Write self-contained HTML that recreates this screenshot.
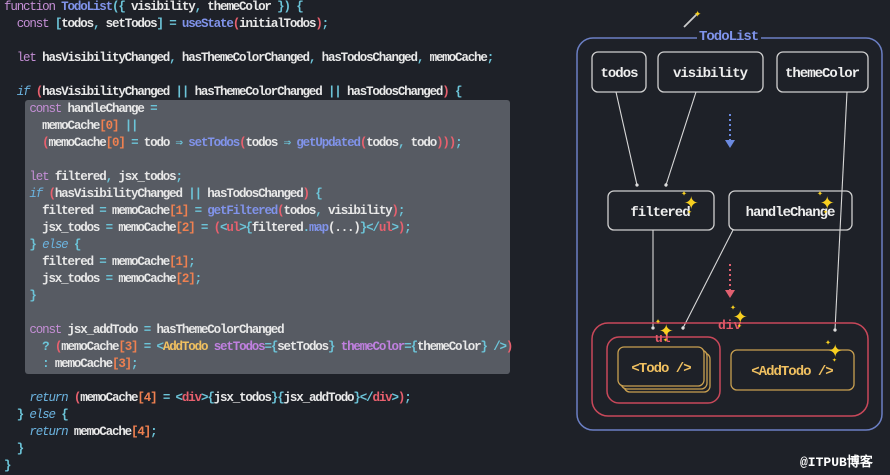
<!DOCTYPE html>
<html><head><meta charset="utf-8"><style>
html,body{margin:0;padding:0}
body{width:890px;height:475px;background:#1e2128;position:relative;overflow:hidden;font-family:"Liberation Mono","DejaVu Sans Mono",monospace}
.hl{position:absolute;left:25px;top:100px;width:485px;height:274px;background:#575b63;border-radius:3px}
pre{position:absolute;left:4px;top:-1px;margin:0;font-family:"Liberation Mono",monospace;font-size:12.5px;letter-spacing:-1.15px;line-height:17px;color:#e8e8e8;font-weight:bold}
.k{color:#c58fd6;font-weight:normal}.f{color:#8093ea}.p{color:#6cc4d8}.n{color:#ef8050}.r{color:#e8606e}.y{color:#f0c060}.i{color:#6cb4e0;font-style:italic;font-weight:normal}.a{color:#c080e0}
svg{position:absolute;left:0;top:0}
svg text{font-family:"Liberation Mono",monospace;font-weight:bold}
</style></head><body>
<div class="hl"></div>
<pre><span class="k">function</span> <span class="f">TodoList</span><span class="p">({</span> visibility<span class="p">,</span> themeColor <span class="p">})</span> <span class="p">{</span>
  <span class="k">const</span> <span class="p">[</span>todos<span class="p">,</span> setTodos<span class="p">]</span> <span class="p">=</span> <span class="f">useState</span><span class="r">(</span>initialTodos<span class="r">)</span><span class="p">;</span>

  <span class="k">let</span> hasVisibilityChanged<span class="p">,</span> hasThemeColorChanged<span class="p">,</span> hasTodosChanged<span class="p">,</span> memoCache<span class="p">;</span>

  <span class="i">if</span> <span class="r">(</span>hasVisibilityChanged <span class="p">||</span> hasThemeColorChanged <span class="p">||</span> hasTodosChanged<span class="r">)</span> <span class="p">{</span>
    <span class="k">const</span> handleChange <span class="p">=</span>
      memoCache<span class="n">[0]</span> <span class="p">||</span>
      <span class="r">(</span>memoCache<span class="n">[0]</span> <span class="p">=</span> todo <span class="p">⇒</span> <span class="f">setTodos</span><span class="r">(</span>todos <span class="p">⇒</span> <span class="f">getUpdated</span><span class="r">(</span>todos<span class="p">,</span> todo<span class="r">)))</span><span class="p">;</span>

    <span class="k">let</span> filtered<span class="p">,</span> jsx_todos<span class="p">;</span>
    <span class="i">if</span> <span class="r">(</span>hasVisibilityChanged <span class="p">||</span> hasTodosChanged<span class="r">)</span> <span class="p">{</span>
      filtered <span class="p">=</span> memoCache<span class="n">[1]</span> <span class="p">=</span> <span class="f">getFiltered</span><span class="r">(</span>todos<span class="p">,</span> visibility<span class="r">)</span><span class="p">;</span>
      jsx_todos <span class="p">=</span> memoCache<span class="n">[2]</span> <span class="p">=</span> <span class="r">(</span><span class="p">&lt;</span><span class="r">ul</span><span class="p">&gt;{</span>filtered<span class="p">.</span><span class="f">map</span>(...)<span class="p">}&lt;/</span><span class="r">ul</span><span class="p">&gt;</span><span class="r">)</span><span class="p">;</span>
    <span class="p">}</span> <span class="i">else</span> <span class="p">{</span>
      filtered <span class="p">=</span> memoCache<span class="n">[1]</span><span class="p">;</span>
      jsx_todos <span class="p">=</span> memoCache<span class="n">[2]</span><span class="p">;</span>
    <span class="p">}</span>

    <span class="k">const</span> jsx_addTodo <span class="p">=</span> hasThemeColorChanged
      <span class="p">?</span> <span class="r">(</span>memoCache<span class="n">[3]</span> <span class="p">=</span> <span class="p">&lt;</span><span class="y">AddTodo</span> <span class="a">setTodos</span><span class="p">={</span>setTodos<span class="p">}</span> <span class="a">themeColor</span><span class="p">={</span>themeColor<span class="p">}</span> <span class="p">/&gt;</span><span class="r">)</span>
      <span class="p">:</span> memoCache<span class="n">[3]</span><span class="p">;</span>

    <span class="i">return</span> <span class="r">(</span>memoCache<span class="n">[4]</span> <span class="p">=</span> <span class="p">&lt;</span><span class="r">div</span><span class="p">&gt;{</span>jsx_todos<span class="p">}{</span>jsx_addTodo<span class="p">}&lt;/</span><span class="r">div</span><span class="p">&gt;</span><span class="r">)</span><span class="p">;</span>
  <span class="p">}</span> <span class="i">else</span> <span class="p">{</span>
    <span class="i">return</span> memoCache<span class="n">[4]</span><span class="p">;</span>
  <span class="p">}</span>
<span class="p">}</span></pre>
<svg width="890" height="475" viewBox="0 0 890 475">
<defs>
<marker id="ah" markerWidth="4" markerHeight="4" refX="2" refY="2" orient="auto"><circle cx="2" cy="2" r="1.5" fill="#ddd"/></marker>
</defs>
<!-- wand -->
<line x1="684" y1="27" x2="697" y2="14" stroke="#ccc" stroke-width="1.8"/>
<text x="694" y="17" font-size="12" fill="#f5d020" font-family="DejaVu Sans">✦</text>
<!-- TodoList -->
<rect x="577" y="38" width="305" height="392" rx="16" fill="none" stroke="#6b7fc4" stroke-width="1.5"/>
<rect x="697" y="28" width="64" height="14" fill="#1e2128"/>
<text x="699" y="40" font-size="14" fill="#7f93ea" letter-spacing="-1">TodoList</text>
<g fill="none" stroke="#d0d0d0" stroke-width="1.3">
<rect x="592" y="52" width="54" height="40" rx="6"/>
<rect x="658" y="52" width="105" height="40" rx="6"/>
<rect x="777" y="52" width="91" height="40" rx="6"/>
<rect x="608" y="191" width="106" height="39" rx="6"/>
<rect x="729" y="191" width="123" height="39" rx="6"/>
</g>
<g font-size="14" fill="#eee" text-anchor="middle" letter-spacing="-1">
<text x="619" y="77">todos</text>
<text x="710" y="77">visibility</text>
<text x="822" y="77">themeColor</text>
<text x="660" y="216">filtered</text>
<text x="790" y="216">handleChange</text>
</g>
<g stroke="#d8d8d8" stroke-width="1.1" marker-end="url(#ah)">
<line x1="616" y1="92" x2="637" y2="185"/>
<line x1="696" y1="92" x2="666" y2="185"/>
<line x1="847" y1="92" x2="835" y2="330"/>
<line x1="653" y1="230" x2="653" y2="328"/>
<line x1="733" y1="230" x2="683" y2="328"/>
</g>
<line x1="730" y1="114" x2="730" y2="140" stroke="#6b8ae0" stroke-width="2" stroke-dasharray="2 3"/>
<polygon points="725,140 735,140 730,148" fill="#6b8ae0"/>
<line x1="730" y1="264" x2="730" y2="290" stroke="#e06070" stroke-width="2" stroke-dasharray="2 3"/>
<polygon points="725,290 735,290 730,298" fill="#e06070"/>
<!-- div -->
<rect x="592" y="323" width="276" height="93" rx="16" fill="none" stroke="#c9485a" stroke-width="1.5"/>
<rect x="607" y="337" width="113" height="66" rx="12" fill="none" stroke="#c9485a" stroke-width="1.5"/>
<text x="718" y="329" font-size="13" fill="#e05868">div</text>
<text x="655" y="342" font-size="13" fill="#e05868">ul</text>
<g fill="#1e2128" stroke="#c9a050" stroke-width="1.3">
<rect x="624" y="353" width="86" height="39" rx="6"/>
<rect x="621" y="350" width="86" height="39" rx="6"/>
<rect x="618" y="347" width="86" height="39" rx="6"/>
<rect x="731" y="350" width="123" height="40" rx="6"/>
</g>
<text x="661" y="372" font-size="14" fill="#f0c060" text-anchor="middle" letter-spacing="-1">&lt;Todo /&gt;</text>
<text x="792" y="375" font-size="14" fill="#f0c060" text-anchor="middle" letter-spacing="-1">&lt;AddTodo /&gt;</text>
<!-- sparkles -->
<g fill="#f8d020" font-family="DejaVu Sans" font-weight="normal">
<text x="684" y="209" font-size="24">✦</text><text x="681" y="196" font-size="10">✦</text><text x="687" y="214" font-size="8">✦</text>
<text x="820" y="209" font-size="24">✦</text><text x="817" y="196" font-size="10">✦</text><text x="823" y="214" font-size="8">✦</text>
<text x="659" y="337" font-size="24">✦</text><text x="655" y="324" font-size="10">✦</text><text x="663" y="342" font-size="8">✦</text>
<text x="733" y="323" font-size="24">✦</text><text x="730" y="310" font-size="10">✦</text><text x="737" y="328" font-size="8">✦</text>
<text x="828" y="357" font-size="24">✦</text><text x="825" y="345" font-size="10">✦</text><text x="832" y="362" font-size="8">✦</text>
</g>
<text x="800" y="466" font-size="13" fill="#fff" font-family="Liberation Sans,Noto Sans CJK SC,sans-serif" font-weight="bold">@ITPUB博客</text>
</svg>
</body></html>
